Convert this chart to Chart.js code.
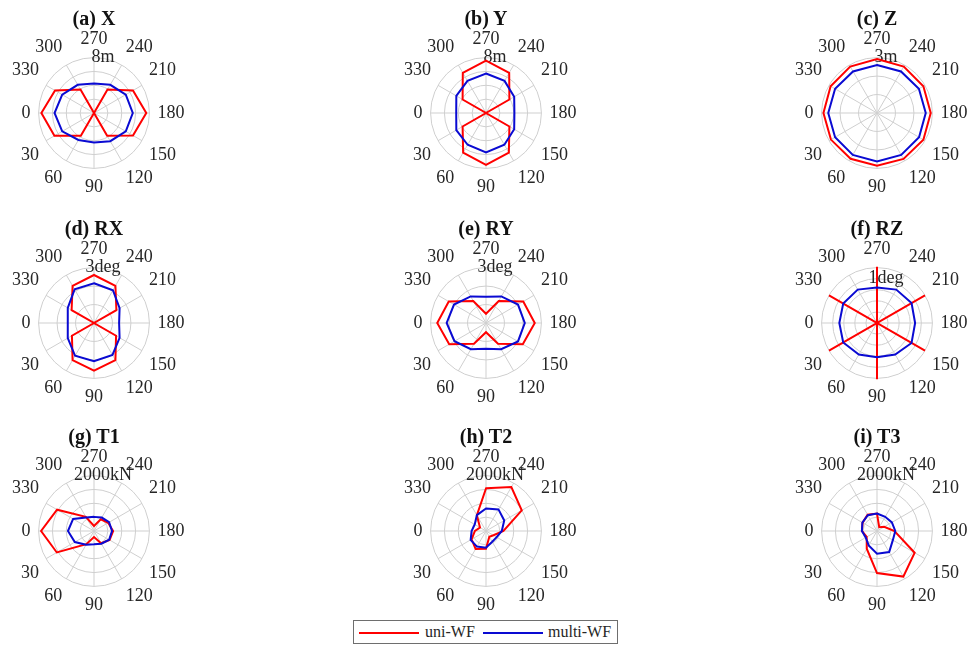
<!DOCTYPE html>
<html>
<head>
<meta charset="utf-8">
<script src="https://cdn.jsdelivr.net/npm/chart.js@4.4.1/dist/chart.umd.min.js"></script>
<style>
  html, body { margin: 0; padding: 0; background: #fff; }
  body {
    width: 971px; height: 647px; position: relative; overflow: hidden;
    font-family: "Liberation Serif", "Times New Roman", serif; color: #262626;
  }
  .panel { position: absolute; width: 270px; height: 170px; }
  .title {
    position: absolute; font-weight: bold; font-size: 20px; line-height: 22px;
    transform: translate(-50%, -50%); white-space: nowrap; color: #111;
  }
  .legend {
    position: absolute; left: 353px; top: 620px; width: 263px; height: 22px;
    border: 1px solid #6e6e6e; font-size: 16px; background: #fff;
  }
  .legend .sw { position: absolute; top: 11px; width: 60px; height: 0; border-top: 2px solid; }
  .legend .lt { position: absolute; top: 0; line-height: 22px; white-space: nowrap; }
</style>
</head>
<body>
<div class="legend">
  <span class="sw" style="left:5px;border-color:#ff0000"></span><span class="lt" style="left:71px">uni-WF</span>
  <span class="sw" style="left:129px;border-color:#0a0ad2"></span><span class="lt" style="left:194px">multi-WF</span>
</div>
<script>
// Heading angles (deg) of the response samples, in the order the arrays below are stored.
const ANGLES = [0, 30, 60, 90, 120, 150, 180, 210, 240, 270, 300, 330];
// Spoke order as the radar scale walks clockwise from the top.
const SPOKES = [270, 240, 210, 180, 150, 120, 90, 60, 30, 0, 330, 300];

// Surge X (m)
const xUni   = [7.6, 6.6, 3.8, 0, 3.8, 6.5, 7.55, 6.5, 3.9, 0, 3.9, 6.5];
const xMulti = [5.7, 5.3, 4.5, 4.25, 4.7, 5.3, 5.6, 5.3, 4.7, 4.25, 4.7, 5.3];
// Sway Y (m)
const yUni   = [0, 3.9, 6.6, 7.5, 6.6, 3.9, 0, 3.9, 6.7, 7.55, 6.7, 3.9];
const yMulti = [4.3, 4.95, 5.3, 5.7, 5.3, 4.7, 4.1, 4.7, 5.35, 5.7, 5.35, 4.95];
// Heave Z (m)
const zUni   = [2.9, 2.88, 2.86, 2.85, 2.87, 2.9, 2.91, 2.9, 2.9, 2.92, 2.9, 2.9];
const zMulti = [2.64, 2.62, 2.62, 2.62, 2.62, 2.63, 2.64, 2.62, 2.6, 2.6, 2.6, 2.62];
// Roll RX (deg)
const rxUni   = [0, 1.38, 2.32, 2.58, 2.32, 1.38, 0, 1.4, 2.32, 2.6, 2.32, 1.4];
const rxMulti = [1.42, 1.64, 2.05, 2.07, 2.0, 1.6, 1.36, 1.6, 2.05, 2.15, 2.1, 1.64];
// Pitch RY (deg)
const ryUni   = [2.64, 2.3, 1.3, 0.5, 1.3, 2.3, 2.64, 2.33, 1.38, 0.5, 1.38, 2.33];
const ryMulti = [2.13, 1.97, 1.64, 1.4, 1.64, 2.0, 2.1, 2.0, 1.66, 1.42, 1.66, 2.0];
// Yaw RZ (deg)
const rzUni   = [0, 1.25, 0, 1.27, 0, 1.25, 0, 1.25, 0, 1.27, 0, 1.25];
const rzMulti = [0.85, 0.88, 0.82, 0.77, 0.82, 0.9, 0.86, 0.9, 0.87, 0.8, 0.87, 0.88];
// Mooring line tensions (kN)
const t1Uni   = [1910, 1550, 550, 220, 510, 650, 690, 590, 490, 180, 590, 1540];
const t1Multi = [940, 800, 570, 480, 530, 630, 650, 630, 560, 510, 560, 870];
const t2Uni   = [400, 600, 750, 640, 240, 310, 630, 1490, 1830, 1540, 660, 250];
const t2Multi = [520, 640, 650, 600, 450, 445, 570, 760, 900, 810, 660, 470];
const t3Uni   = [545, 430, 740, 1520, 1900, 1570, 630, 300, 160, 630, 680, 600];
const t3Multi = [545, 470, 600, 820, 880, 660, 660, 620, 590, 630, 660, 610];

const TITLES = ['(a) X', '(b) Y', '(c) Z', '(d) RX', '(e) RY', '(f) RZ', '(g) T1', '(h) T2', '(i) T3'];
const UNI    = [xUni, yUni, zUni, rxUni, ryUni, rzUni, t1Uni, t2Uni, t3Uni];
const MULTI  = [xMulti, yMulti, zMulti, rxMulti, ryMulti, rzMulti, t1Multi, t2Multi, t3Multi];
const R_MAX  = [8, 8, 3, 3, 3, 1.25, 2000, 2000, 2000];
const R_STEP = [2, 2, 1, 1, 1, 0.25, 500, 500, 500];
const R_TAG  = [8, 8, 3, 3, 3, 1, 2000, 2000, 2000];
const UNITS  = ['m', 'm', 'm', 'deg', 'deg', 'deg', 'kN', 'kN', 'kN'];

const SERIF = '"Liberation Serif", "Times New Roman", serif';
const TEXT = '#262626';
const GRID = '#cfcfcf';
const RED = '#ff0000';
const BLUE = '#0a0ad2';

const COL_X = [94, 486, 877];
const ROW_Y = [113, 323, 531];
const HALF_W = 135, HALF_H = 85;

Chart.defaults.font.family = SERIF;

function toSpokes(values) {
  return SPOKES.map(a => values[ANGLES.indexOf(a)]);
}

TITLES.forEach((title, k) => {
  const cx = COL_X[k % 3], cy = ROW_Y[Math.floor(k / 3)];

  const t = document.createElement('div');
  t.className = 'title';
  t.style.left = cx + 'px';
  t.style.top = (cy - 95) + 'px';
  t.textContent = title;

  const canvas = document.createElement('canvas');
  canvas.className = 'panel';
  canvas.width = 270; canvas.height = 170;
  canvas.style.left = (cx - HALF_W) + 'px';
  canvas.style.top = (cy - HALF_H) + 'px';
  document.body.appendChild(canvas);
  document.body.appendChild(t);

  new Chart(canvas, {
    type: 'radar',
    data: {
      labels: SPOKES.map(String),
      datasets: [
        { label: 'uni-WF', data: toSpokes(UNI[k]), borderColor: RED, borderWidth: 2,
          pointRadius: 0, fill: false, order: 2 },
        { label: 'multi-WF', data: toSpokes(MULTI[k]), borderColor: BLUE, borderWidth: 2,
          pointRadius: 0, fill: false, order: 1 }
      ]
    },
    options: {
      responsive: false,
      animation: false,
      devicePixelRatio: 1,
      layout: { padding: 0 },
      plugins: { legend: { display: false }, tooltip: { enabled: false } },
      elements: { line: { tension: 0 } },
      scales: {
        r: {
          min: 0,
          max: R_MAX[k],
          ticks: {
            stepSize: R_STEP[k],
            showLabelBackdrop: false,
            color: TEXT,
            font: { family: SERIF, size: 18 },
            callback: v => (v === R_TAG[k] ? '    ' + v + UNITS[k] : '')
          },
          grid: { circular: true, color: GRID, lineWidth: 1 },
          angleLines: { color: GRID, lineWidth: 1 },
          pointLabels: { color: TEXT, font: { family: SERIF, size: 18 }, padding: -3 }
        }
      }
    }
  });
});
</script>
</body>
</html>
